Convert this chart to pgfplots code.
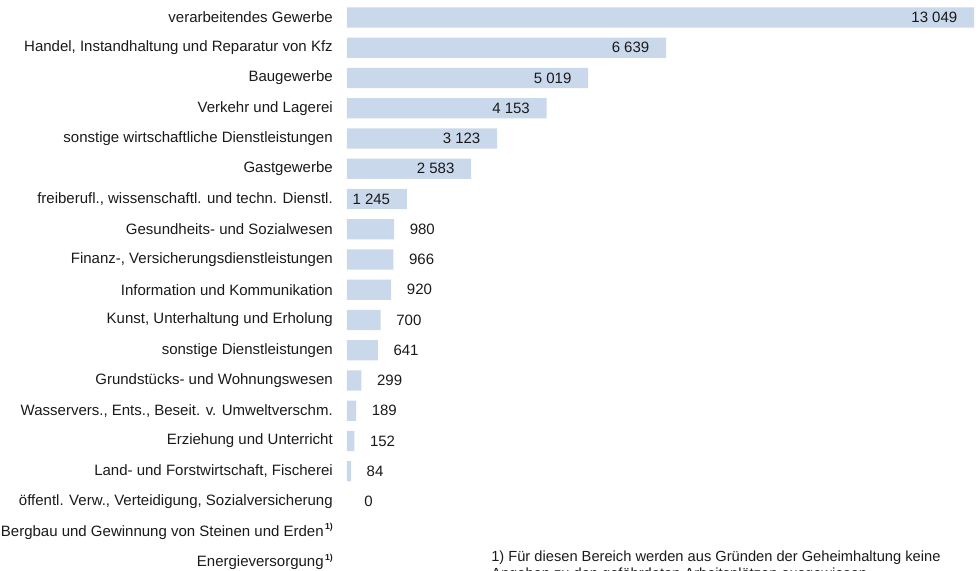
\documentclass[border=0pt]{standalone}
\usepackage{fontspec}
\setmainfont{Liberation Sans}
\usepackage{pgfplots}
\pgfplotsset{compat=1.18}
\usepackage{xcolor}
\definecolor{cbar}{HTML}{C9D8EB}
\definecolor{ctxt}{HTML}{1A1A1A}
\newcommand{\fn}{\kern1pt\raisebox{0.45em}{\fontsize{6.5}{7}\selectfont\bfseries 1)}}

\begin{document}
\begin{tikzpicture}
\begin{axis}[at={(260.25pt,-1.78pt)},anchor=north west,scale only axis,
  width=470.25pt,height=431.06pt,
  xmin=0,xmax=13049,ymin=-0.5,ymax=18.5,y dir=reverse,
  axis line style={draw=none},xtick=\empty,major tick length=0pt,
  ytick={0,...,18},
  yticklabel style={anchor=east,inner sep=0pt,xshift=-10.5pt,text=ctxt,
    font=\fontsize{11.25}{13.5}\selectfont},
  yticklabels={verarbeitendes Gewerbe,
    {Handel, Instandhaltung und Reparatur von Kfz},
    Baugewerbe,
    Verkehr und Lagerei,
    sonstige wirtschaftliche Dienstleistungen,
    Gastgewerbe,
    {freiberufl., wissenschaftl. und techn. Dienstl.},
    Gesundheits- und Sozialwesen,
    {Finanz-, Versicherungsdienstleistungen},
    Information und Kommunikation,
    {Kunst, Unterhaltung und Erholung},
    sonstige Dienstleistungen,
    Grundstücks- und Wohnungswesen,
    {Wasservers., Ents., Beseit. v. Umweltverschm.},
    Erziehung und Unterricht,
    {Land- und Forstwirtschaft, Fischerei},
    {öffentl. Verw., Verteidigung, Sozialversicherung},
    {Bergbau und Gewinnung von Steinen und Erden\fn},
    {Energieversorgung\fn}},
  xbar,bar width=15.2pt,bar shift=0pt,
  point meta=x,nodes near coords,
  /pgf/number format/.cd,1000 sep={\ },assume math mode=true,
  /pgfplots/.cd,
  every node near coord/.append style={text=ctxt,font=\fontsize{11.25}{13.5}\selectfont},
  clip=false]
% values above 1000: label inside the bar
\addplot[fill=cbar,draw=none,
  every node near coord/.append style={anchor=east,xshift=-9pt}]
  coordinates {(13049,0)(6639,1)(5019,2)(4153,3)(3123,4)(2583,5)(1245,6)};
% smaller values: label to the right
\addplot[fill=cbar,draw=none,
  every node near coord/.append style={anchor=west,xshift=8.25pt}]
  coordinates {(980,7)(966,8)(920,9)(700,10)(641,11)(299,12)(189,13)(152,14)(84,15)};
% zero: label only
\addplot[fill=none,draw=none,
  every node near coord/.append style={anchor=west,xshift=9.5pt}]
  coordinates {(0,16)};
\end{axis}
\node[anchor=base west,inner sep=0pt,text=ctxt,
  font=\fontsize{11}{13}\selectfont] at (368.25pt,-420.75pt)
  {1) Für diesen Bereich werden aus Gründen der Geheimhaltung keine};
\node[anchor=base west,inner sep=0pt,text=ctxt,
  font=\fontsize{11}{13}\selectfont] at (368.25pt,-433.9pt)
  {Angaben zu den gefährdeten Arbeitsplätzen ausgewiesen.};
\pgfresetboundingbox
\path[use as bounding box] (0,0) rectangle (734.25pt,-428.25pt);
\end{tikzpicture}
\end{document}
